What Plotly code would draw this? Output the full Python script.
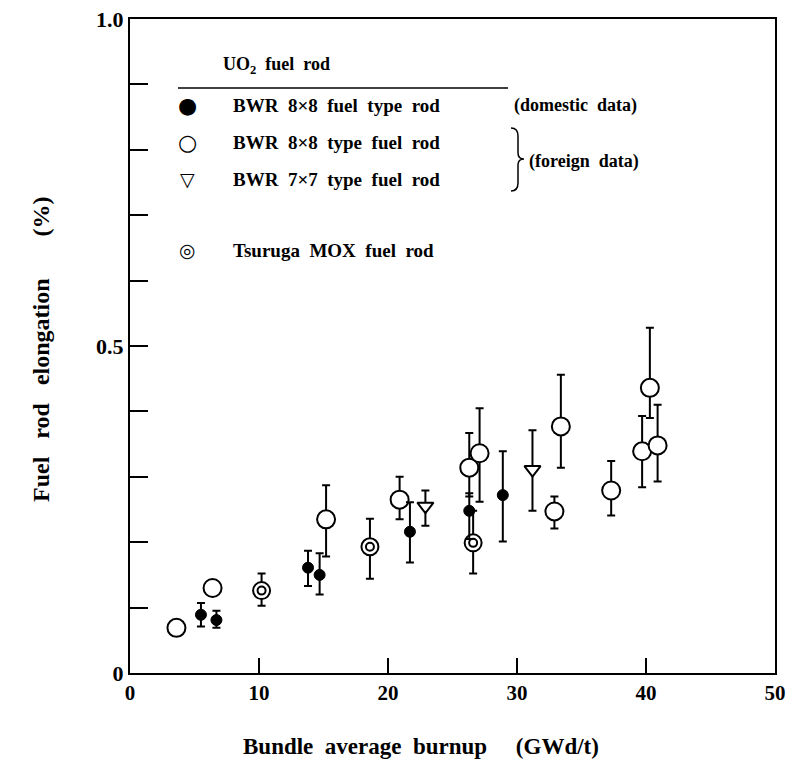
import plotly.graph_objects as go

# ---- data (burnup GWd/t, elongation %, error plus, error minus) ----
dom_x = [5.5, 6.7, 13.8, 14.7, 21.7, 26.3, 28.9]
dom_y = [0.089, 0.081, 0.161, 0.150, 0.216, 0.248, 0.272]
dom_up = [0.107, 0.095, 0.187, 0.183, 0.261, 0.275, 0.339]
dom_lo = [0.071, 0.069, 0.133, 0.120, 0.169, 0.205, 0.201]

f88_x = [3.6, 6.4, 15.2, 20.9, 26.3, 27.1, 32.9, 33.4, 37.3, 39.7, 40.3, 40.9]
f88_y = [0.069, 0.130, 0.235, 0.265, 0.314, 0.336, 0.247, 0.377, 0.279, 0.339, 0.436, 0.348]
f88_up = [0.069, 0.130, 0.287, 0.300, 0.367, 0.405, 0.270, 0.456, 0.324, 0.393, 0.528, 0.410]
f88_lo = [0.069, 0.130, 0.178, 0.235, 0.270, 0.262, 0.221, 0.314, 0.241, 0.284, 0.390, 0.293]

f77_x = [22.9, 31.2]
f77_y = [0.255, 0.311]
f77_up = [0.279, 0.371]
f77_lo = [0.225, 0.248]

mox_x = [10.2, 18.6, 26.6]
mox_y = [0.126, 0.193, 0.199]
mox_up = [0.152, 0.236, 0.248]
mox_lo = [0.103, 0.144, 0.152]

x_ticks = [0, 10, 20, 30, 40, 50]
x_ticktext = ["0", "10", "20", "30", "40", "50"]
y_ticks = [0, 0.1, 0.2, 0.3, 0.4, 0.5, 0.6, 0.7, 0.8, 0.9, 1.0]
y_ticktext = ["0", "", "", "", "", "0.5", "", "", "", "", "1.0"]

FONT = "Times New Roman, Liberation Serif, DejaVu Serif, serif"


def err(y, up, lo):
    return dict(type="data", symmetric=False,
                array=[u - v for u, v in zip(up, y)],
                arrayminus=[v - l for v, l in zip(y, lo)],
                color="black", thickness=2, width=4)


fig = go.Figure()
fig.add_trace(go.Scatter(x=f88_x, y=f88_y, mode="markers", error_y=err(f88_y, f88_up, f88_lo),
                         marker=dict(symbol="circle", size=18, color="white",
                                     line=dict(color="black", width=2))))
fig.add_trace(go.Scatter(x=f77_x, y=f77_y, mode="markers", error_y=err(f77_y, f77_up, f77_lo),
                         marker=dict(symbol="triangle-down", size=14, color="white",
                                     line=dict(color="black", width=2))))
fig.add_trace(go.Scatter(x=mox_x, y=mox_y, mode="markers", error_y=err(mox_y, mox_up, mox_lo),
                         marker=dict(symbol="circle", size=17, color="white",
                                     line=dict(color="black", width=2))))
fig.add_trace(go.Scatter(x=mox_x, y=mox_y, mode="markers",
                         marker=dict(symbol="circle", size=8, color="white",
                                     line=dict(color="black", width=2))))
fig.add_trace(go.Scatter(x=dom_x, y=dom_y, mode="markers", error_y=err(dom_y, dom_up, dom_lo),
                         marker=dict(symbol="circle", size=11, color="black",
                                     line=dict(color="black", width=1))))

# target pixel frame of the plot area (used to place the legend block and titles)
L, R, T, B = 130, 775, 20, 674


def px(x):
    return (x - L) / (R - L)


def py(y):
    return (B - y) / (B - T)


ann = []


def text(x, y, s, size=17, anchor="left", family=FONT, angle=0):
    ann.append(dict(x=px(x), y=py(y), xref="paper", yref="paper", text=s, showarrow=False,
                    xanchor=anchor, yanchor="middle", textangle=angle,
                    font=dict(family=family, size=size, color="black")))


SYM = "DejaVu Sans"
S = "&nbsp;"
text(221, 66, f"<b>UO<sub>2</sub>{S}{S}fuel{S}{S}rod</b>", size=18)
text(187, 107, "●", size=22, anchor="center", family=SYM)
text(231, 107, f"<b>BWR{S}{S}8×8{S}{S}fuel{S}{S}type{S}{S}rod</b>", size=19)
text(512, 107, f"<b>(domestic{S}{S}data)</b>", size=18)
text(187, 143, "○", size=22, anchor="center", family=SYM)
text(231, 143, f"<b>BWR{S}{S}8×8{S}{S}type{S}{S}fuel{S}{S}rod</b>", size=19)
text(187, 180, "▽", size=19, anchor="center", family=SYM)
text(231, 180, f"<b>BWR{S}{S}7×7{S}{S}type{S}{S}fuel{S}{S}rod</b>", size=19)
text(527, 162, f"<b>(foreign{S}{S}data)</b>", size=18)
text(187, 251, "◎", size=19, anchor="center", family=SYM)
text(231, 251, f"<b>Tsuruga{S}{S}MOX{S}{S}fuel{S}{S}rod</b>", size=19)

# axis titles
text(421, 747, f"<b>Bundle{S}{S}average{S}{S}burnup{S}{S}{S}{S}{S}(GWd/t)</b>", size=23, anchor="center")
text(41, 350, f"<b>Fuel{S}{S}{S}rod{S}{S}{S}elongation{S}{S}{S}{S}{S}{S}{S}(%)</b>", size=24,
     anchor="center", angle=-90)

shapes = [dict(type="line", xref="paper", yref="paper", x0=px(178), x1=px(508), y0=py(89), y1=py(89),
               line=dict(color="black", width=1.5))]
brace = (f"M {px(511)},{py(129)} Q {px(518)},{py(129)} {px(518)},{py(137)} "
         f"L {px(518)},{py(154)} Q {px(518)},{py(160)} {px(524)},{py(160)} "
         f"Q {px(518)},{py(160)} {px(518)},{py(166)} "
         f"L {px(518)},{py(184)} Q {px(518)},{py(192)} {px(511)},{py(192)}")
shapes.append(dict(type="path", xref="paper", yref="paper", path=brace,
                   line=dict(color="black", width=1.5)))

fig.update_layout(
    width=789, height=767,
    margin=dict(l=130, r=14, t=19, b=94),
    paper_bgcolor="white", plot_bgcolor="white",
    showlegend=False,
    annotations=ann, shapes=shapes,
    xaxis=dict(range=[0, 50], tickvals=x_ticks, ticktext=[f"<b>{t}</b>" for t in x_ticktext],
               ticks="inside", ticklen=15, tickwidth=1.5, automargin=False,
               tickcolor="black", showline=True, linecolor="black", linewidth=2, mirror=True,
               showgrid=False, zeroline=False,
               tickfont=dict(family=FONT, size=21, color="black")),
    yaxis=dict(range=[0, 1.0], tickvals=y_ticks, ticktext=[f"<b>{t}</b>" if t else "" for t in y_ticktext],
               ticks="inside", ticklen=18, automargin=False,
               tickwidth=1.5, tickcolor="black", showline=True, linecolor="black", linewidth=2,
               mirror=True, showgrid=False, zeroline=False,
               tickfont=dict(family=FONT, size=22, color="black")),
)
fig.write_html("out.html", config={"displayModeBar": False},
               post_script="document.body.style.margin='0px';document.body.style.overflow='hidden';")
